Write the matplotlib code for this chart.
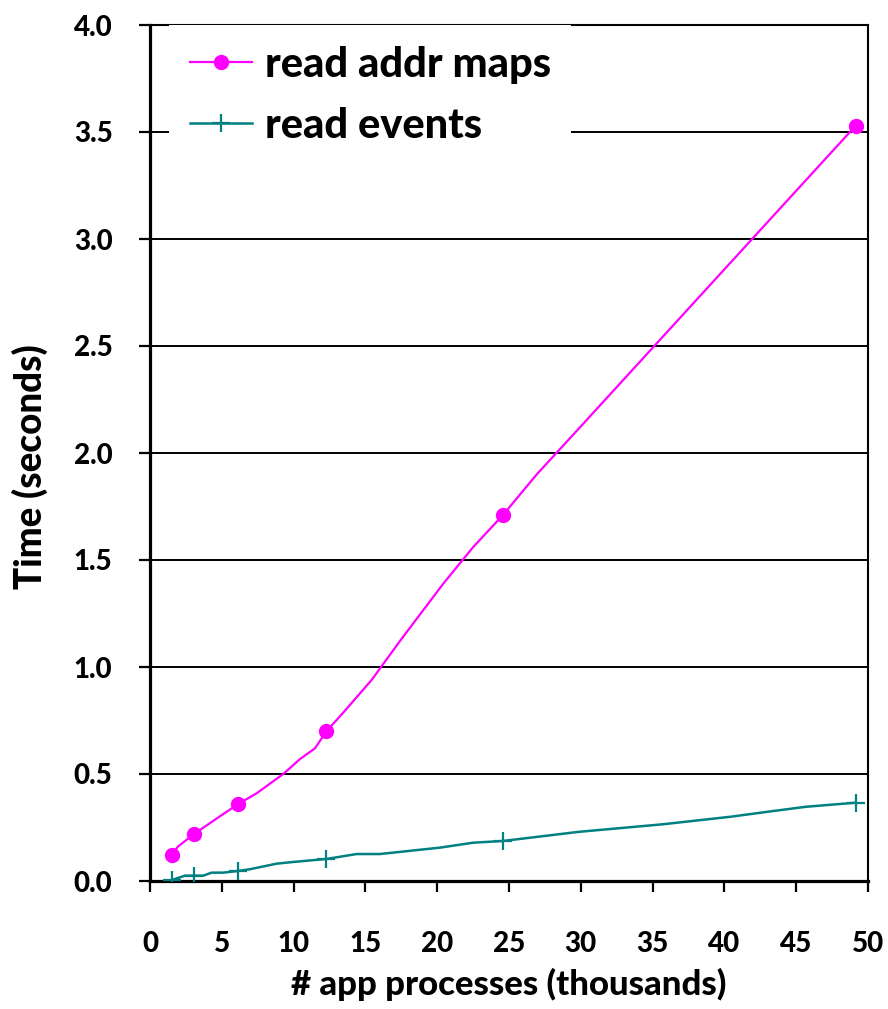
import numpy as np
import matplotlib.pyplot as plt

# processes (thousands) and timings (seconds)
addr_x = [1.536, 1.93, 3.072, 4.6, 6.144, 7.43, 9.28, 10.45, 11.49, 12.288,
          13.5, 15.44, 17.5, 20.43, 22.5, 24.576, 26.93, 29.94, 49.152]
addr_y = [0.12, 0.16, 0.22, 0.29, 0.36, 0.41, 0.50, 0.57, 0.62, 0.70,
          0.79, 0.94, 1.13, 1.39, 1.56, 1.71, 1.90, 2.12, 3.53]
addr_marks = [0, 2, 4, 9, 15, 18]

events_x = [1.536, 2.44, 3.072, 3.71, 4.29, 5.1, 6.144, 6.96, 8.82, 9.98, 12.288,
            14.39, 16.0, 17.4, 20.2, 22.5, 24.576, 29.9, 35.7, 40.4, 43.4, 45.7, 49.152]
events_y = [0.005, 0.025, 0.025, 0.025, 0.039, 0.039, 0.047, 0.055, 0.081, 0.089, 0.103,
            0.126, 0.126, 0.136, 0.156, 0.179, 0.187, 0.230, 0.265, 0.300, 0.327, 0.347, 0.366]
events_marks = [0, 2, 6, 10, 16, 22]

xticks = np.arange(0, 51, 5)
yticks = np.arange(0, 4.01, 0.5)

plt.rcParams['font.family'] = ['Lato', 'DejaVu Sans']
plt.rcParams['font.weight'] = 900

fig = plt.figure(figsize=(8.88, 10.09), dpi=100)
ax = fig.add_axes([150 / 888, 128 / 1009, 718 / 888, 856 / 1009])

ax.plot(addr_x, addr_y, color='#ff00ff', lw=1.6, marker='o', ms=10,
        markevery=addr_marks, label='read addr maps', zorder=3)
ax.plot(events_x, events_y, color='#008080', lw=1.8, marker='+', ms=13, mew=1.6,
        markevery=events_marks, label='read events', zorder=3)

ax.set_xlim(0, 50)
ax.set_ylim(0, 4.0)
ax.set_xticks(xticks)
ax.set_yticks(yticks)
ax.set_xticklabels([str(v) for v in xticks], fontweight=900)
ax.set_yticklabels(['%.1f' % v for v in yticks], fontweight=900)
ax.yaxis.grid(True, color='black', lw=1.4)
ax.set_axisbelow(True)

for side in ['left', 'bottom']:
    ax.spines[side].set_linewidth(2.3)
for side in ['top', 'right']:
    ax.spines[side].set_linewidth(1.5)

ax.tick_params(axis='both', direction='out', length=8, width=1.6, labelsize=20)
ax.tick_params(axis='y', pad=19)
ax.tick_params(axis='x', pad=28)

ax.set_xlabel('# app processes (thousands)', fontsize=25, fontweight=900, labelpad=8)
ax.set_ylabel('Time (seconds)', fontsize=26.5, fontweight=900)
ax.yaxis.set_label_coords(-0.142, 0.484)

leg = ax.legend(loc='upper left', bbox_to_anchor=(0.026, 1.0), borderaxespad=0,
                prop={'weight': 900, 'size': 30}, frameon=True,
                fancybox=False, edgecolor='none', facecolor='white', framealpha=1,
                handlelength=1.5, handletextpad=0.3, borderpad=0.5, labelspacing=0.55)

fig.savefig('out.png', dpi=100)
